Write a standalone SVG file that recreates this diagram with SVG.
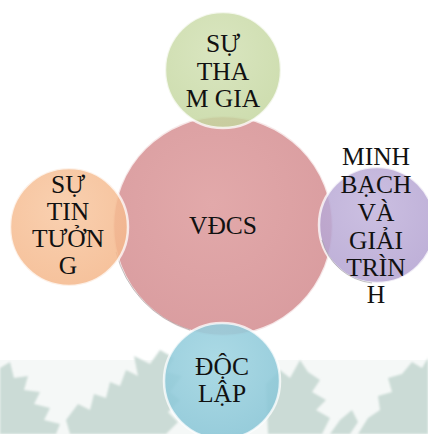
<svg xmlns="http://www.w3.org/2000/svg" width="428" height="434" viewBox="0 0 428 434">
<style>
.t{font-family:"Liberation Serif","Times New Roman",serif;font-size:25.5px;fill:#111;text-anchor:middle}
.leaf{fill:#cbdbd6}
.ring{stroke:#ffffff;stroke-opacity:0.75;stroke-width:2.5}
.edge{fill:none;stroke:#8a8a8a;stroke-opacity:0.5;stroke-width:1}
</style>
<defs>
<radialGradient id="gR" cx="0.45" cy="0.4" r="0.65"><stop offset="0" stop-color="#e2a9aa"/><stop offset="1" stop-color="#d99c9f"/></radialGradient>
<radialGradient id="gG" cx="0.45" cy="0.35" r="0.7"><stop offset="0" stop-color="#d1e0b2"/><stop offset="1" stop-color="#c2d59c"/></radialGradient>
<radialGradient id="gO" cx="0.45" cy="0.35" r="0.7"><stop offset="0" stop-color="#f8c8a2"/><stop offset="1" stop-color="#f4b689"/></radialGradient>
<radialGradient id="gP" cx="0.45" cy="0.35" r="0.7"><stop offset="0" stop-color="#c2b4dc"/><stop offset="1" stop-color="#b2a1d0"/></radialGradient>
<radialGradient id="gB" cx="0.45" cy="0.35" r="0.7"><stop offset="0" stop-color="#a0d5e2"/><stop offset="1" stop-color="#88c5d6"/></radialGradient>
<filter id="soft" x="-5%" y="-5%" width="110%" height="110%"><feGaussianBlur stdDeviation="1"/></filter>
</defs>
<rect width="428" height="434" fill="#ffffff"/>
<rect y="360" width="428" height="74" fill="#f5f8f7"/>
<g id="background" filter="url(#soft)">
<polygon class="leaf" points="0,368 10,362 14,378 28,376 24,390 40,392 34,404 50,408 44,420 60,424 56,434 0,434"/>
<polygon class="leaf" points="66,420 78,404 90,410 94,394 106,398 110,382 120,386 126,370 138,376 134,356 150,364 160,350 174,358 166,372 182,376 170,392 180,400 168,412 178,422 166,434 70,434"/>
<polygon class="leaf" points="266,384 280,370 290,378 300,360 308,372 320,380 312,392 326,400 316,410 330,418 322,434 268,434"/>
<polygon class="leaf" points="330,434 340,420 352,410 358,422 350,434"/>
<polygon class="leaf" points="358,434 368,418 380,410 378,396 392,392 388,378 402,374 412,362 422,368 428,358 428,434"/>
</g>
<g id="vdcs">
<circle cx="223" cy="226" r="110" fill="url(#gR)" class="ring"/>
<path class="edge" d="M 116 252 A 110 110 0 0 0 190 330"/>
<text class="t" x="223" y="234">VĐCS</text>
</g>
<g id="su-tham-gia">
<circle cx="223" cy="70" r="58" fill="url(#gG)" fill-opacity="0.82" class="ring"/>
<text class="t" x="223" y="52">SỰ</text>
<text class="t" x="223" y="80">THA</text>
<text class="t" x="223" y="107">M GIA</text>
</g>
<g id="su-tin-tuong">
<circle cx="69" cy="227" r="59" fill="url(#gO)" fill-opacity="0.85" class="ring"/>
<text class="t" x="68" y="193">SỰ</text>
<text class="t" x="68" y="220">TIN</text>
<text class="t" x="68" y="247">TƯỞN</text>
<text class="t" x="68" y="274">G</text>
</g>
<g id="minh-bach">
<circle cx="377" cy="225" r="58" fill="url(#gP)" fill-opacity="0.85" class="ring"/>
<path class="edge" d="M 322 240 A 58 58 0 0 0 372 283"/>
<text class="t" x="376" y="165">MINH</text>
<text class="t" x="376" y="193">BẠCH</text>
<text class="t" x="376" y="221">VÀ</text>
<text class="t" x="376" y="249">GIẢI</text>
<text class="t" x="376" y="276">TRÌN</text>
<text class="t" x="376" y="303">H</text>
</g>
<g id="doc-lap">
<circle cx="222" cy="381" r="58" fill="url(#gB)" fill-opacity="0.88" class="ring"/>
<text class="t" x="222" y="375">ĐỘC</text>
<text class="t" x="222" y="402">LẬP</text>
</g>
<g id="connectors"></g>
</svg>
